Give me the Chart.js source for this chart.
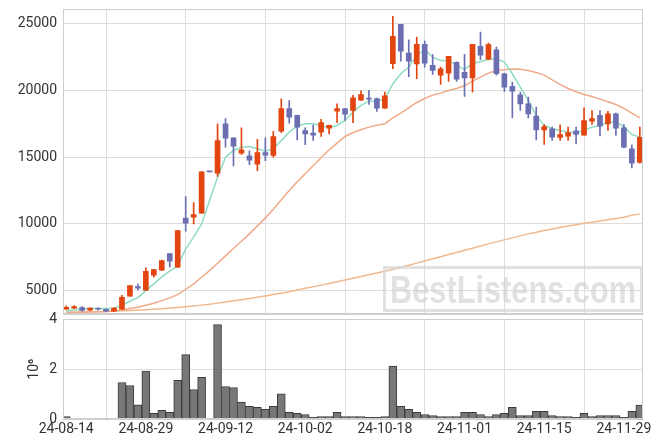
<!DOCTYPE html>
<html>
<head>
<meta charset="utf-8">
<script src="https://cdn.jsdelivr.net/npm/chart.js@4.4.1/dist/chart.umd.min.js"></script>
<style>
html, body { margin: 0; padding: 0; background: #fff; }
#wrap { position: relative; width: 663px; height: 444px; overflow: hidden; }
#wrap canvas { position: absolute; left: 0; }
</style>
</head>
<body>
<div id="wrap">
	<canvas id="price" width="663" height="334" style="top:-5px"></canvas>
	<canvas id="vol" width="663" height="141" style="top:305px"></canvas>
</div>
<script>
// trading days (KRX), yy-mm-dd
var dates = [
	'24-08-14','24-08-16','24-08-19','24-08-20','24-08-21','24-08-22','24-08-23','24-08-26','24-08-27','24-08-28',
	'24-08-29','24-08-30','24-09-02','24-09-03','24-09-04','24-09-05','24-09-06','24-09-09','24-09-10','24-09-11',
	'24-09-12','24-09-13','24-09-19','24-09-20','24-09-23','24-09-24','24-09-25','24-09-26','24-09-27','24-09-30',
	'24-10-02','24-10-04','24-10-07','24-10-08','24-10-10','24-10-11','24-10-14','24-10-15','24-10-16','24-10-17',
	'24-10-18','24-10-21','24-10-22','24-10-23','24-10-24','24-10-25','24-10-28','24-10-29','24-10-30','24-10-31',
	'24-11-01','24-11-04','24-11-05','24-11-06','24-11-07','24-11-08','24-11-11','24-11-12','24-11-13','24-11-14',
	'24-11-15','24-11-18','24-11-19','24-11-20','24-11-21','24-11-22','24-11-25','24-11-26','24-11-27','24-11-28',
	'24-11-29','24-12-02','24-12-03'
];

var openP = [
	3600,3680,3730,3530,3650,3600,3460,3600,4580,5300,
	5030,6150,6530,7780,6750,10430,10500,10800,13900,13800,
	17500,16450,15300,15100,14480,15350,15130,16950,18650,18130,
	17000,16800,16880,17180,18450,18650,18500,19280,19400,19400,
	18680,22000,24950,22800,21980,23450,21880,21150,21300,22100,
	21350,20930,23300,22350,23050,21250,20300,19680,19000,18080,
	17050,17130,16480,16580,16980,16650,17700,18130,17500,18250,
	17200,15630,14600
];
var highP = [
	3850,3880,3800,3700,3720,3620,3730,4650,5380,5480,
	6700,6600,7280,7800,9520,12050,11600,13920,13900,17500,
	17900,16450,17200,15480,16330,16450,16930,19380,19250,18150,
	17200,17400,17830,17400,19000,18650,19630,19980,20000,19420,
	19880,25550,24950,23800,24000,23700,22680,21750,22550,22150,
	22700,23450,24380,23550,23250,21300,20630,19880,19500,18750,
	17450,17250,17430,17250,17250,18700,18500,18500,18430,18300,
	17450,15930,17250
];
var lowP = [
	3580,3650,3450,3500,3530,3420,3440,3580,4570,5050,
	5000,6000,6500,6750,6730,9450,10000,10780,13900,13550,
	15750,14350,15200,14430,13980,14730,15000,16830,17550,16300,
	15930,16250,16550,16750,17580,17750,17580,19250,18950,18430,
	18650,21630,22200,21030,20880,21750,21200,20450,20680,20680,
	19550,19880,22300,22300,21150,19930,17950,18500,17950,16300,
	15950,16250,16250,16250,16000,16650,17450,16600,17000,16630,
	15700,14200,14550
];
var closeP = [
	3750,3800,3520,3680,3600,3460,3680,4500,5370,5180,
	6450,6580,7250,7200,9500,10050,10700,13900,13900,16250,
	16430,15830,15550,14780,15350,15150,16550,18650,18000,17250,
	16750,16650,17600,17380,18650,18230,19450,19700,19350,18680,
	19600,24050,22950,22200,23450,22050,21500,21630,22550,20850,
	20930,23450,22650,23430,21250,20250,19950,19000,18250,17050,
	17300,16500,16700,16850,16700,17750,17900,17330,18250,17180,
	15750,14550,16480
];

// moving average lines
var ma5 = [
	3475,3550,3625,3650,3650,3650,3675,3900,4200,4475,
	5000,5500,6025,6450,6850,8125,9000,10000,11750,13500,
	15000,15500,15750,15800,15625,15450,15625,16250,16875,17325,
	17500,17500,17375,17200,17375,17750,18375,18875,19200,19200,
	19375,20500,21250,21750,22625,23050,22500,22250,22250,21875,
	21575,22000,22175,22325,22375,22125,21250,20250,19250,18125,
	17375,17125,17000,16875,16825,17000,17250,17375,17625,17625,
	17300,16700,16500
];
var ma20 = [
	3350,3360,3380,3400,3420,3440,3480,3550,3650,3750,
	3900,4050,4250,4450,4700,5100,5500,6000,6500,7050,
	7600,8150,8700,9250,9850,10450,11100,11800,12500,13150,
	13750,14350,14950,15550,16050,16550,16850,17050,17250,17400,
	17500,17950,18300,18700,19100,19400,19650,19800,20000,20150,
	20350,20700,21000,21300,21500,21550,21600,21580,21500,21350,
	21150,20800,20450,20150,19900,19700,19550,19350,19150,18950,
	18650,18300,17950
];
var ma60 = [
	3380,3390,3400,3410,3420,3440,3460,3480,3500,3530,
	3560,3600,3640,3690,3740,3790,3850,3910,3980,4060,
	4140,4230,4320,4410,4500,4600,4700,4800,4920,5050,
	5170,5290,5410,5530,5660,5790,5920,6050,6180,6310,
	6450,6600,6750,6900,7060,7220,7380,7540,7700,7860,
	8020,8180,8340,8500,8650,8800,8950,9100,9250,9380,
	9500,9620,9730,9840,9940,10040,10130,10220,10310,10400,
	10490,10650,10750
];

// volume, millions of shares
var volume = [
	0.11,0.03,0.03,0.03,0.01,0.01,0.03,1.47,1.35,0.58,
	1.93,0.24,0.36,0.28,1.56,2.59,1.19,1.68,0,3.79,
	1.31,1.27,0.69,0.52,0.48,0.40,0.52,1.02,0.28,0.24,
	0.19,0.07,0.11,0.11,0.28,0.11,0.11,0.11,0.07,0.07,
	0.11,2.13,0.52,0.40,0.28,0.19,0.15,0.11,0.11,0.11,
	0.28,0.28,0.19,0.11,0.19,0.24,0.48,0.15,0.15,0.32,
	0.32,0.15,0.11,0.11,0.07,0.24,0.11,0.15,0.15,0.15,
	0.07,0.32,0.57
];

var priceTicks = [5000, 10000, 15000, 20000, 25000];
var volTicks = [0, 2, 4];
var dateTicks = [0, 10, 20, 30, 40, 50, 60, 70];

var UP = '#e2450f';
var DOWN = '#6b6fb2';
var GRID = '#dedede';
var FONT = { family: 'Roboto', size: 14 };

function candleColor(i){
	return closeP[i] > openP[i] ? UP : DOWN;
}

function pts(arr){
	return arr.map(function(v, i){ return { x: i, y: v }; });
}

function fixTicks(list){
	return function(scale){
		scale.ticks = list.map(function(v){ return { value: v }; });
	};
}

function plain(v){
	return String(v);
}

var boxBorder = {
	id: 'boxBorder',
	afterDraw: function(chart){
		var a = chart.chartArea, ctx = chart.ctx;
		ctx.save();
		ctx.strokeStyle = '#cfcfcf';
		ctx.lineWidth = 1;
		ctx.strokeRect(Math.round(a.left) + 0.5, Math.round(a.top) + 0.5,
			Math.round(a.right - a.left) - 1, Math.round(a.bottom - a.top) - 1);
		ctx.restore();
	}
};

// canvas is shifted up by 5px, so watermark coords are +5
var watermark = {
	id: 'watermark',
	afterDraw: function(chart){
		var ctx = chart.ctx;
		ctx.save();
		ctx.strokeStyle = 'rgba(215,215,215,0.75)';
		ctx.lineWidth = 3;
		ctx.beginPath();
		ctx.rect(384.5, 272.5, 257, 43);
		ctx.stroke();
		ctx.font = 'bold 38px "Liberation Sans"';
		var w = ctx.measureText('BestListens.com').width;
		ctx.translate(390, 308);
		ctx.scale(246 / w, 1);
		ctx.fillStyle = 'rgba(205,205,205,0.6)';
		ctx.fillText('BestListens.com', 0, 0);
		ctx.restore();
	}
};

var xBase = {
	type: 'linear',
	min: -0.4,
	max: 72.4,
	offset: false,
	afterBuildTicks: fixTicks(dateTicks),
	grid: { color: GRID, drawTicks: false },
	border: { color: '#cfcfcf' }
};

function priceChart(){
	var ctx = document.getElementById('price').getContext('2d');
	var idx = dates.map(function(d, i){ return i; });
	window.priceChart = new Chart(ctx, {
		type: 'bar',
		data: {
			datasets: [{
				label: 'MA5',
				type: 'line',
				data: pts(ma5),
				borderColor: '#8fdcc3',
				borderWidth: 1.5,
				pointRadius: 0,
				order: 3
			}, {
				label: 'MA20',
				type: 'line',
				data: pts(ma20),
				borderColor: '#efaa88',
				borderWidth: 1.5,
				pointRadius: 0,
				order: 4
			}, {
				label: 'MA60',
				type: 'line',
				data: pts(ma60),
				borderColor: '#efb98f',
				borderWidth: 1.5,
				pointRadius: 0,
				order: 5
			}, {
				label: 'wick',
				data: idx.map(function(i){ return { x: i, y: [lowP[i], highP[i]] }; }),
				backgroundColor: idx.map(candleColor),
				barThickness: 1,
				grouped: false,
				order: 2
			}, {
				label: 'body',
				data: idx.map(function(i){ return { x: i, y: [openP[i], closeP[i]] }; }),
				backgroundColor: idx.map(candleColor),
				barThickness: 5,
				minBarLength: 1,
				grouped: false,
				order: 1
			}]
		},
		options: {
			responsive: false,
			animation: false,
			layout: { padding: { top: 0, right: 20, bottom: 0, left: 0 } },
			plugins: { legend: { display: false }, tooltip: { enabled: false } },
			scales: {
				x: Object.assign({}, xBase, { ticks: { display: false } }),
				y: {
					min: 3200,
					max: 26075,
					afterBuildTicks: fixTicks(priceTicks),
					afterFit: function(s){ s.width = 63; },
					grid: { color: GRID, drawTicks: false },
					border: { color: '#cfcfcf' },
					ticks: { color: '#333', font: FONT, padding: 6, callback: plain }
				}
			}
		},
		plugins: [boxBorder, watermark]
	});
}

function volumeChart(){
	var ctx = document.getElementById('vol').getContext('2d');
	window.volChart = new Chart(ctx, {
		type: 'bar',
		data: {
			datasets: [{
				label: 'volume',
				data: pts(volume),
				backgroundColor: '#777777',
				borderColor: '#3c3c3c',
				borderWidth: 1,
				barPercentage: 1,
				categoryPercentage: 1
			}]
		},
		options: {
			responsive: false,
			animation: false,
			layout: { padding: { top: 0, right: 20, bottom: 6, left: 26 } },
			plugins: { legend: { display: false }, tooltip: { enabled: false } },
			scales: {
				x: Object.assign({}, xBase, {
					ticks: {
						color: '#333',
						font: FONT,
						padding: 2,
						maxRotation: 0,
						callback: function(v){ return dates[v]; }
					}
				}),
				y: {
					min: 0,
					max: 4,
					afterBuildTicks: fixTicks(volTicks),
					afterFit: function(s){ s.width = 37; },
					grid: { color: GRID, drawTicks: false },
					border: { color: '#cfcfcf' },
					ticks: { color: '#333', font: FONT, padding: 6, callback: plain },
					title: { display: true, text: '10\u2076', color: '#333', font: FONT, padding: 0 }
				}
			}
		},
		plugins: [boxBorder]
	});
}

priceChart();
volumeChart();
</script>
</body>
</html>
